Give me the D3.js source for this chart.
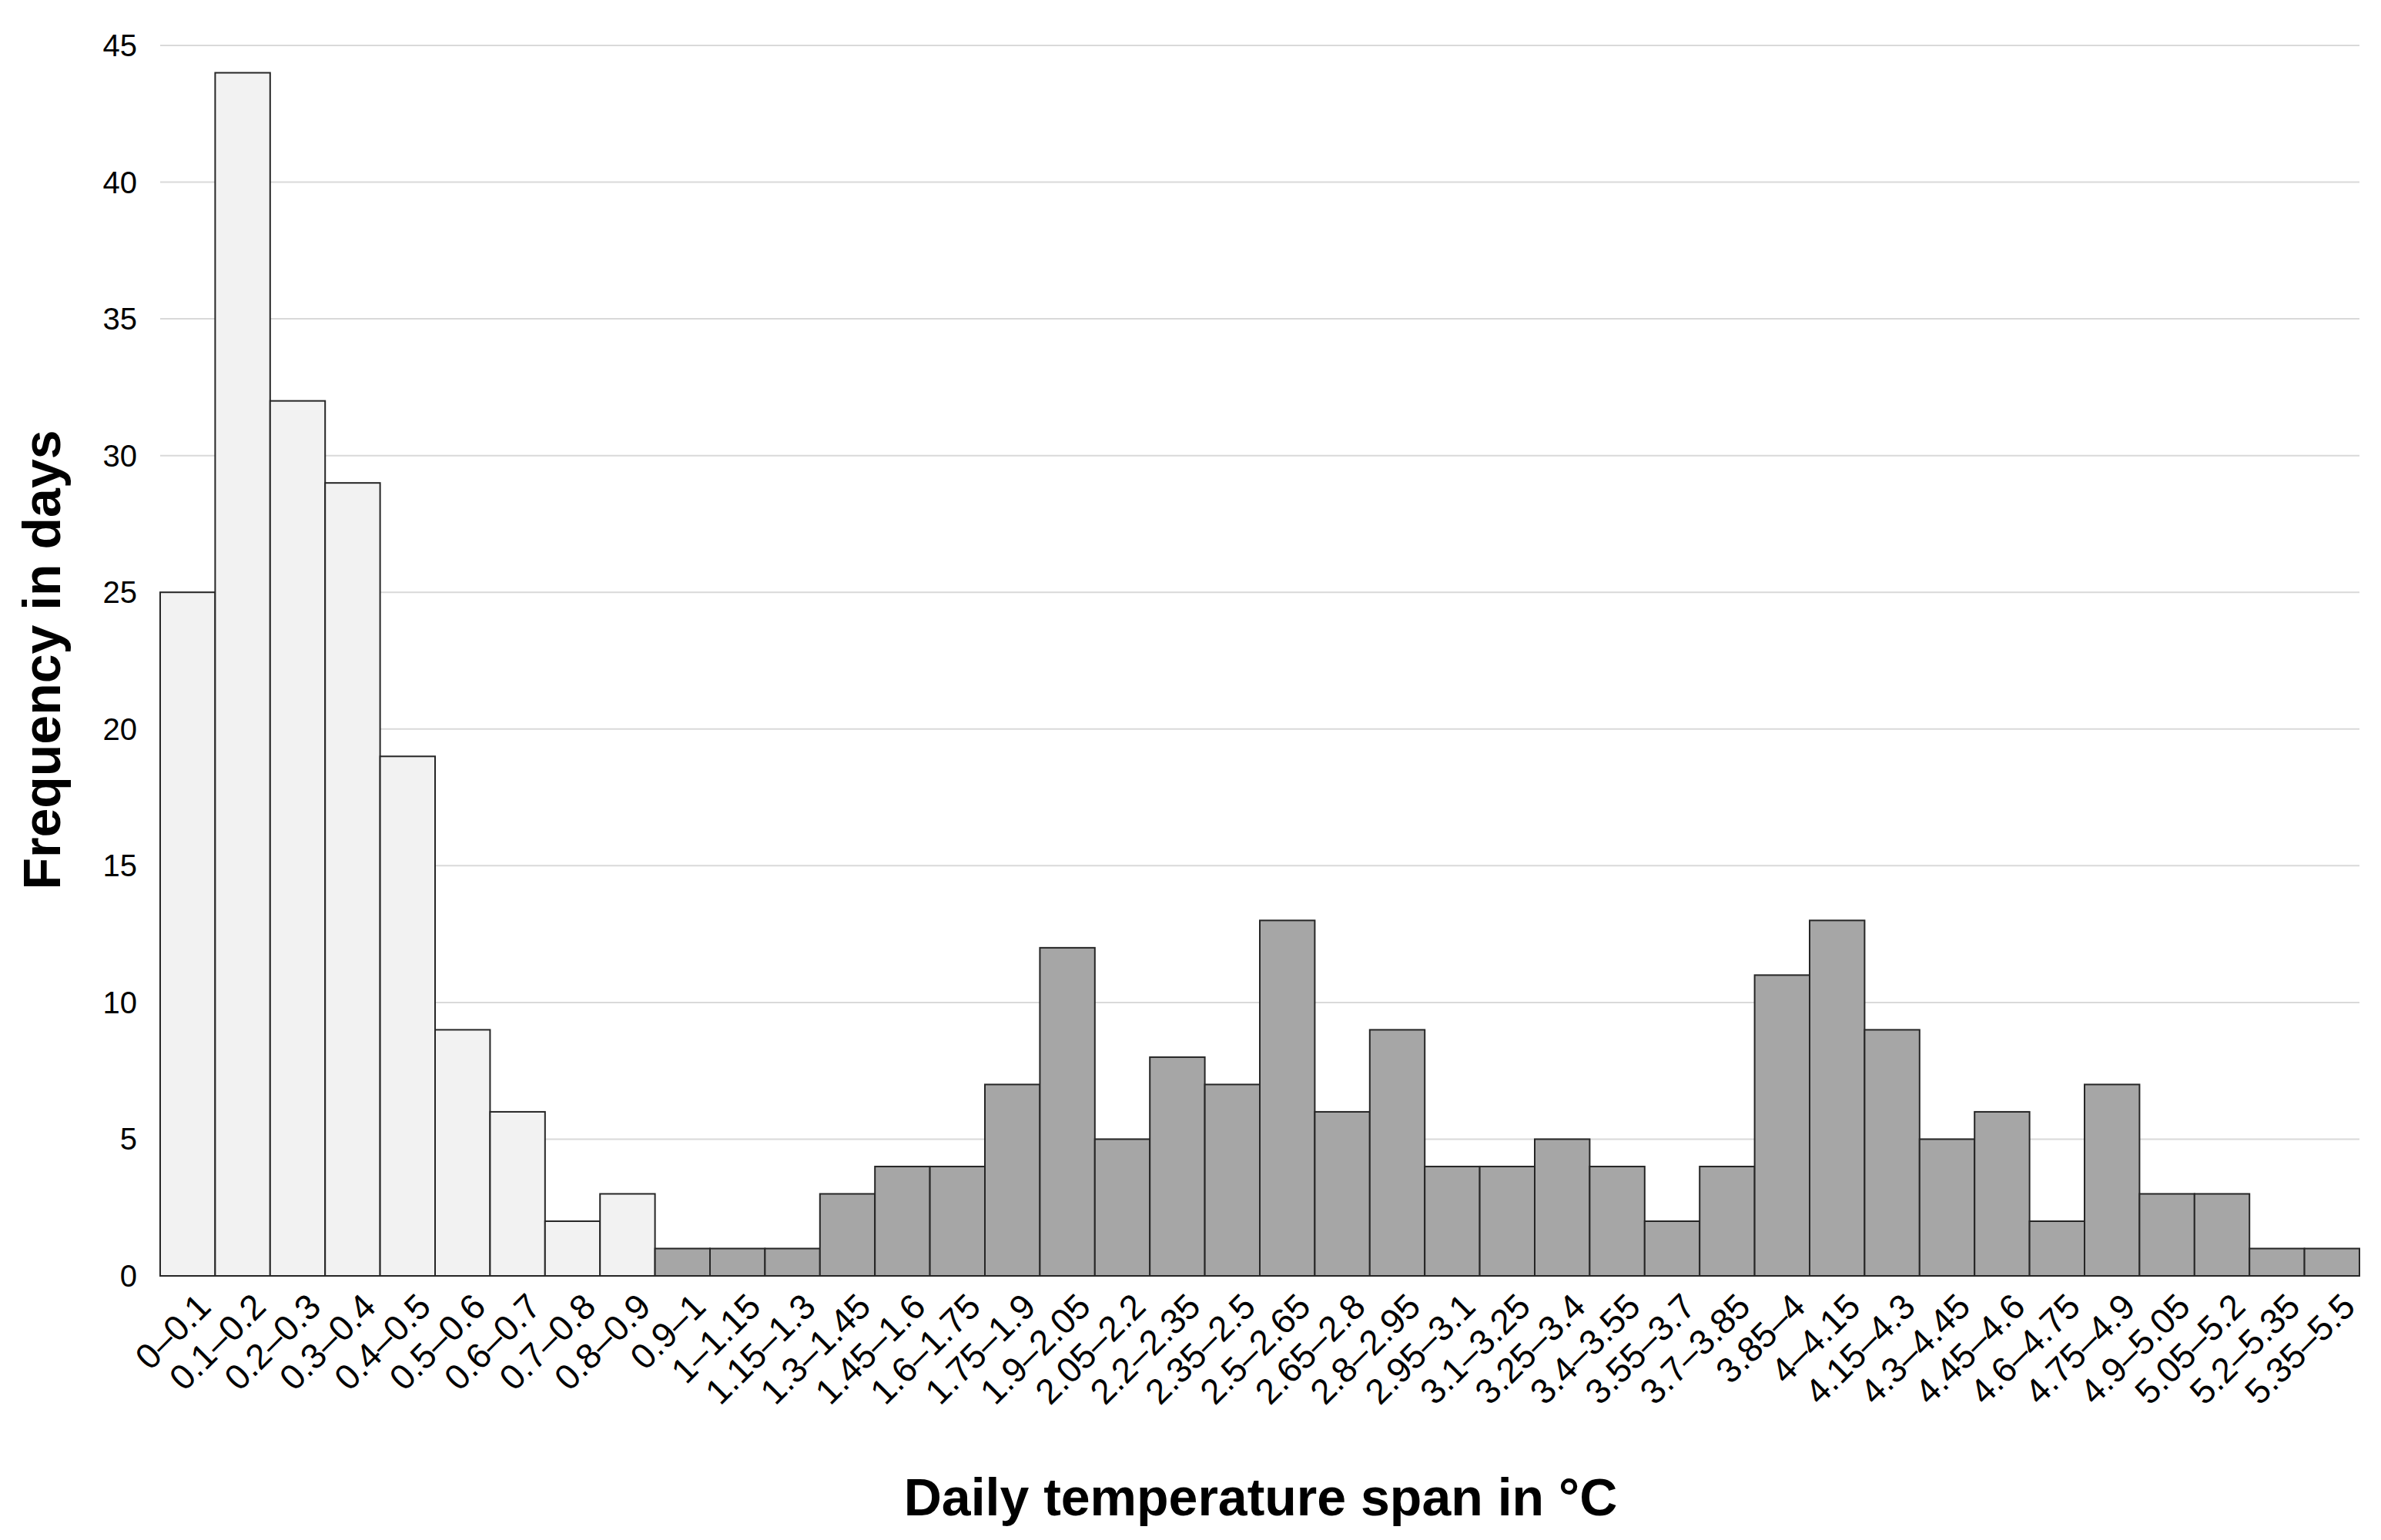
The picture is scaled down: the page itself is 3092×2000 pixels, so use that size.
<!DOCTYPE html>
<html><head><meta charset="utf-8">
<script src="https://cdn.jsdelivr.net/npm/d3@7"></script>
<style>body{margin:0;background:#fff}</style></head>
<body><svg id="c" width="3092" height="2000"></svg>
<script>
const categories=["0–0.1","0.1–0.2","0.2–0.3","0.3–0.4","0.4–0.5","0.5–0.6","0.6–0.7","0.7–0.8","0.8–0.9","0.9–1","1–1.15","1.15–1.3","1.3–1.45","1.45–1.6","1.6–1.75","1.75–1.9","1.9–2.05","2.05–2.2","2.2–2.35","2.35–2.5","2.5–2.65","2.65–2.8","2.8–2.95","2.95–3.1","3.1–3.25","3.25–3.4","3.4–3.55","3.55–3.7","3.7–3.85","3.85–4","4–4.15","4.15–4.3","4.3–4.45","4.45–4.6","4.6–4.75","4.75–4.9","4.9–5.05","5.05–5.2","5.2–5.35","5.35–5.5"];
const values=[25,44,32,29,19,9,6,2,3,1,1,1,3,4,4,7,12,5,8,7,13,6,9,4,4,5,4,2,4,11,13,9,5,6,2,7,3,3,1,1];
const lightCount=9;
const yTicks=[0,5,10,15,20,25,30,35,40,45];
const svg=d3.select("#c");
const L=208,R=3064,T=59,B=1657;
const x=d3.scaleBand().domain(categories).range([L,R]).padding(0);
const y=d3.scaleLinear().domain([0,45]).range([B,T]);
const font="Liberation Sans, Arial, sans-serif";
svg.append("g").selectAll("line").data(yTicks).join("line")
 .attr("x1",L).attr("x2",R).attr("y1",d=>y(d)).attr("y2",d=>y(d))
 .attr("stroke","#d9d9d9").attr("stroke-width",2);
svg.append("g").selectAll("text").data(yTicks).join("text")
 .attr("x",L-30).attr("y",d=>y(d)).attr("dy","0.35em").attr("text-anchor","end")
 .attr("font-family",font).attr("font-size",40).attr("fill","#000").text(d=>d);
svg.append("g").selectAll("rect").data(values).join("rect")
 .attr("x",(d,i)=>x(categories[i])).attr("width",x.bandwidth())
 .attr("y",d=>y(d)).attr("height",d=>B-y(d))
 .attr("fill",(d,i)=>i<lightCount?"#f2f2f2":"#a6a6a6")
 .attr("stroke","#262626").attr("stroke-width",2);
svg.append("line").attr("x1",L).attr("x2",R).attr("y1",B).attr("y2",B).attr("stroke","#262626").attr("stroke-width",2);
svg.append("g").selectAll("text").data(categories).join("text")
 .attr("transform",d=>`translate(${x(d)+x.bandwidth()/2+10},${B+20}) rotate(-45)`)
 .attr("text-anchor","end").attr("dy","0.7em")
 .attr("font-family",font).attr("font-size",46).attr("fill","#000").text(d=>d);
svg.append("text").attr("x",1637).attr("y",1968).attr("text-anchor","middle")
 .attr("font-family",font).attr("font-size",68).attr("font-weight","bold").text("Daily temperature span in °C");
svg.append("text").attr("transform",`translate(78,857) rotate(-90)`).attr("text-anchor","middle")
 .attr("font-family",font).attr("font-size",68).attr("font-weight","bold").text("Frequency in days");
</script></body></html>
